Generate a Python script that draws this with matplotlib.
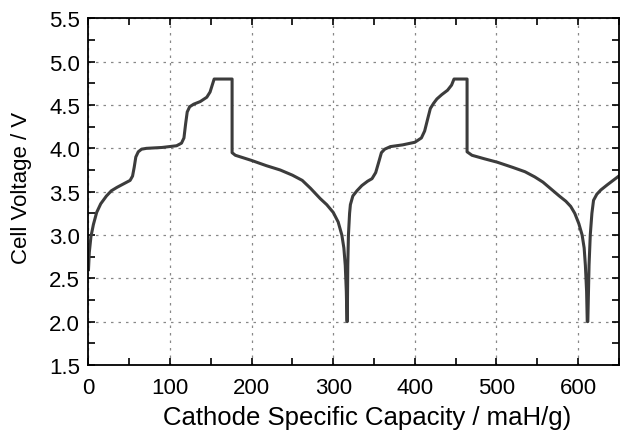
import matplotlib
matplotlib.use("Agg")
import matplotlib.pyplot as plt
from matplotlib.ticker import MultipleLocator, FormatStrFormatter

# capacity (mAh/g) and cell voltage (V), two full cycles
capacity = [
    0, 1, 3, 6, 10, 15, 22, 28, 35, 43, 51, 54, 56, 58, 61, 65, 71, 90, 108, 114,
    117, 119, 121, 124, 129, 137, 145, 149, 152, 154, 176, 176, 180, 190, 200, 218,
    235, 250, 262, 272, 284, 292, 300, 306, 310.5, 313, 314.7, 316, 316.8,
    317.2, 317.8, 318.6, 320, 321, 324, 329, 335, 342, 347.5, 352, 356, 359, 363,
    370, 385, 400, 408, 412, 416, 419, 423, 427, 433, 440, 445, 448, 464, 464, 470,
    485, 501, 520, 535, 547, 557, 567, 577, 585, 591, 596, 601, 605, 607.5, 609, 610.5,
    611.3, 612, 613.5, 615, 617, 619, 623, 628, 636, 643, 650,
]
voltage = [
    2.60, 2.80, 2.98, 3.12, 3.26, 3.36, 3.45, 3.51, 3.55, 3.59, 3.63, 3.68, 3.78,
    3.90, 3.96, 3.99, 4.00, 4.01, 4.03, 4.06, 4.12, 4.28, 4.42, 4.48, 4.51, 4.54,
    4.59, 4.65, 4.74, 4.80, 4.80, 3.95, 3.92, 3.89, 3.86, 3.80, 3.75, 3.69, 3.63,
    3.54, 3.42, 3.35, 3.26, 3.15, 3.00, 2.85, 2.65, 2.35, 2.00,
    2.00, 2.65, 3.00, 3.25, 3.35, 3.45, 3.51, 3.57, 3.62, 3.65, 3.72, 3.85, 3.95,
    3.99, 4.02, 4.04, 4.07, 4.12, 4.20, 4.35, 4.46, 4.52, 4.57, 4.62, 4.67, 4.73,
    4.80, 4.80, 3.96, 3.92, 3.88, 3.84, 3.78, 3.73, 3.67, 3.61, 3.53, 3.45, 3.39,
    3.33, 3.25, 3.13, 3.00, 2.85, 2.65, 2.35, 2.00, 2.00, 2.65, 3.00, 3.25, 3.40, 3.47,
    3.52, 3.58, 3.63, 3.68,
]

plt.rcParams["font.family"] = ["Liberation Sans", "DejaVu Sans"]

fig = plt.figure(figsize=(6.21, 4.31), dpi=100)
ax = fig.add_axes([0.1425, 0.151, 0.854, 0.804])

ax.plot(capacity, voltage, color="#3c3c3c", lw=2.2, solid_joinstyle="round")

ax.set_xlim(0, 650)
ax.set_ylim(1.5, 5.5)
ax.xaxis.set_major_locator(MultipleLocator(100))
ax.xaxis.set_minor_locator(MultipleLocator(50))
ax.yaxis.set_major_locator(MultipleLocator(0.5))
ax.yaxis.set_minor_locator(MultipleLocator(0.25))
ax.yaxis.set_major_formatter(FormatStrFormatter("%.1f"))

ax.tick_params(which="both", direction="in", top=True, right=True, length=5, width=1.2,
               labelsize=16)
ax.tick_params(axis="x", pad=9)
ax.tick_params(axis="y", pad=6)
ax.grid(which="major", color="#888888", linestyle=(0, (2, 4)), lw=0.9)
for s in ax.spines.values():
    s.set_linewidth(1.3)

ax.set_xlabel("Cathode Specific Capacity / maH/g)", fontsize=18.5, labelpad=5, x=0.525)
ax.set_ylabel("Cell Voltage / V", fontsize=16, labelpad=12, y=0.514)

fig.savefig("out.png", dpi=100)
